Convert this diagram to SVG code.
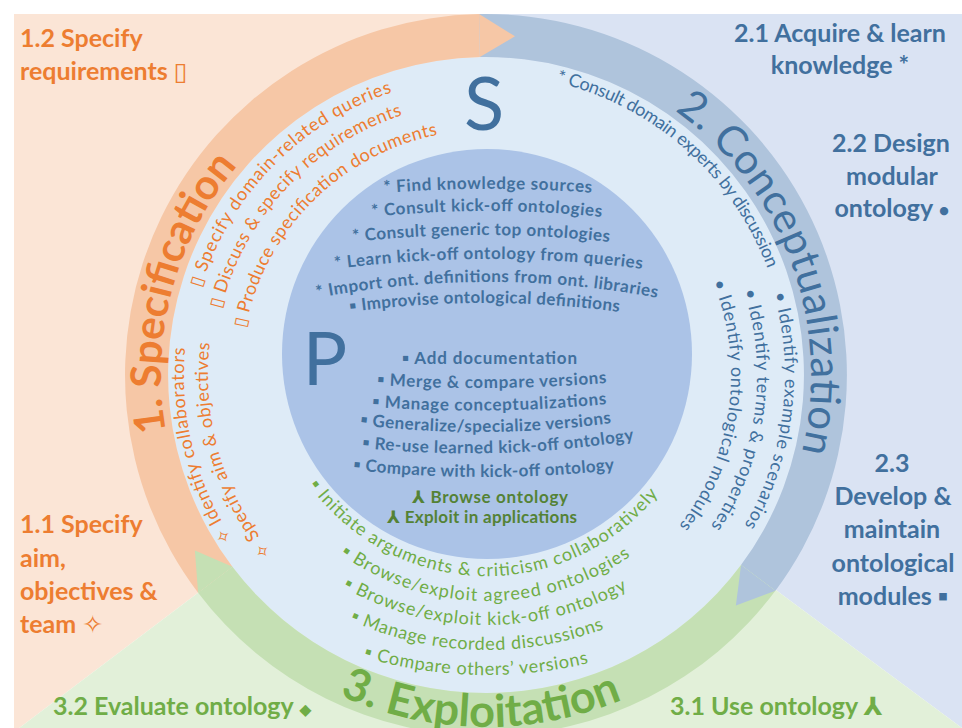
<svg xmlns="http://www.w3.org/2000/svg" width="962" height="728" viewBox="0 0 962 728">
<style>
text{font-family:Lato,'DejaVu Sans',sans-serif}
.h{font-size:25px;font-weight:bold}
.o{fill:#ED7D31}.b{fill:#41709E}.g{fill:#70AD47}.dg{fill:#548235}
.ph{font-size:42px}
.bd{font-weight:bold}
.it{font-size:18px}
.in{font-size:17px;font-weight:bold}
.m{text-anchor:middle}
</style>
<defs>
<path id="pS" d="M165.9 431.4 A325 325 0 0 1 237.0 166.1"/>
<path id="pC" d="M674.7 110.4 A325 325 0 0 1 801.8 452.0"/>
<path id="pE" d="M339.5 695.0 A352 352 0 0 0 622.4 699.5"/>
<path id="o1" d="M201.0 287.9 A298 298 0 0 1 392.4 92.1"/>
<path id="o2" d="M221.1 309.0 A273 273 0 0 1 402.1 115.2"/>
<path id="o3" d="M245.5 328.3 A245 245 0 0 1 437.6 134.8"/>
<path id="o4" d="M232.7 539.5 A302 302 0 0 1 185.2 347.6"/>
<path id="o5" d="M272.4 553.0 A278 278 0 0 1 209.8 343.5"/>
<path id="b1" d="M556.3 82.3 A301 301 0 0 1 767.4 268.1"/>
<path id="b2" d="M773.7 293.6 A299 299 0 0 1 744.4 525.4"/>
<path id="b3" d="M743.6 290.8 A271 271 0 0 1 710.7 526.5"/>
<path id="b4" d="M712.7 282.0 A245 245 0 0 1 679.1 525.8"/>
<path id="g1" d="M308.8 484.8 A219.5 219.5 0 0 0 658.0 494.3"/>
<path id="g2" d="M340.3 553.9 A252 252 0 0 0 630.3 556.3"/>
<path id="g3" d="M342.9 587.1 A292.6 292.6 0 0 0 627.3 589.2"/>
<path id="g4" d="M349.8 620.3 A332 332 0 0 0 604.4 628.6"/>
<path id="g5" d="M363.2 657.1 A436 436 0 0 0 588.8 663.0"/>
<path id="i1" d="M384 193 A1341 1341 0 0 1 594 193"/>
<path id="i2" d="M372 217 A1105 1105 0 0 1 602 217"/>
<path id="i3" d="M353 242 A1183 1183 0 0 1 610 242"/>
<path id="i4" d="M335 269 A1191 1191 0 0 1 643 269"/>
<path id="i5" d="M317 298 A916 916 0 0 1 658 298"/>
<path id="i6" d="M350 312 A1017 1017 0 0 1 620 312"/>
<path id="i8" d="M377 385 A1655 1655 0 0 0 607 383"/>
<path id="i9" d="M372 407 A1383 1383 0 0 0 607 404"/>
<path id="i10" d="M360 425 A996 996 0 0 0 612 423"/>
<path id="i11" d="M362 448 A1040 1040 0 0 0 635 440"/>
<path id="i12" d="M353 470 A1229 1229 0 0 0 615 470"/>
</defs>
<g id="background">
<rect width="962" height="728" fill="#fff"/>
<path d="M486 375 L479.1 14 L14 14 L14 728 L19.2 728 Z" fill="#FBE5D6"/>
<path d="M486 375 L479.1 14 L962 14 L962 728 Z" fill="#DAE3F3"/>
<path d="M486 375 L962 728 L19.2 728 Z" fill="#E2F0D9"/>
<circle cx="486" cy="375" r="318" fill="#DEEBF7"/>
</g>
<g id="connectors">
<path d="M198.1 592.8 A361 361 0 0 1 479.1 14.1 L479.9 57.1 A318 318 0 0 0 232.4 566.8 Z" fill="#F6C7A6"/>
<path d="M479.1 14.1 A361 361 0 0 1 775.4 590.7 L741.0 565.0 A318 318 0 0 0 479.9 57.1 Z" fill="#AFC4DC"/>
<path d="M775.4 590.7 A361 361 0 0 1 198.1 592.8 L232.4 566.8 A318 318 0 0 0 741.0 565.0 Z" fill="#C5E0B4"/>
<path d="M479.1 14.1 L515.0 36.3 L479.9 57.1 Z" fill="#F6C7A6"/>
<path d="M775.4 590.7 L735.9 605.6 L741.0 565.0 Z" fill="#AFC4DC"/>
<path d="M198.1 592.8 L194.9 550.6 L232.4 566.8 Z" fill="#C5E0B4"/>
</g>
<circle id="core" cx="487" cy="354" r="205" fill="#ABC3E7"/>
<g id="specification">
<text class="ph bd o"><textPath href="#pS" textLength="284">1. Specification</textPath></text>
<text class="h o" x="20" y="47">1.2 Specify</text>
<text class="h o" x="20" y="80">requirements ▯</text>
<text class="h o" x="20" y="533">1.1 Specify</text>
<text class="h o" x="20" y="567">aim,</text>
<text class="h o" x="20" y="600">objectives &amp;</text>
<text class="h o" x="20" y="633">team ✧</text>
<text class="it o"><textPath href="#o1" textLength="284">▯ Specify domain-related queries</textPath></text>
<text class="it o"><textPath href="#o2" textLength="277">▯ Discuss &amp; specify requirements</textPath></text>
<text class="it o"><textPath href="#o3" textLength="289">▯ Produce specification documents</textPath></text>
<text class="it o"><textPath href="#o4" textLength="201">✧ Identify collaborators</textPath></text>
<text class="it o"><textPath href="#o5" textLength="225">✧ Specify aim &amp; objectives</textPath></text>
</g>
<g id="conceptualization">
<text class="ph b"><textPath href="#pC" textLength="387">2. Conceptualization</textPath></text>
<text class="h b m" x="840" y="42">2.1 Acquire &amp; learn</text>
<text class="h b m" x="840" y="74">knowledge *</text>
<text class="h b m" x="891" y="152">2.2 Design</text>
<text class="h b m" x="892" y="185">modular</text>
<text class="h b m" x="892" y="217">ontology <tspan font-size="19">•</tspan></text>
<text class="h b m" x="892" y="472">2.3</text>
<text class="h b m" x="893" y="505">Develop &amp;</text>
<text class="h b m" x="892" y="538">maintain</text>
<text class="h b m" x="893" y="572">ontological</text>
<text class="h b m" x="893" y="605">modules ▪</text>
<text class="it b"><textPath href="#b1" textLength="293">* Consult domain experts by discussion</textPath></text>
<text class="it b"><textPath href="#b2" textLength="240">• Identify example scenarios</textPath></text>
<text class="it b"><textPath href="#b3" textLength="246">• Identify terms &amp; properties</textPath></text>
<text class="it b"><textPath href="#b4" textLength="258">• Identify ontological modules</textPath></text>
</g>
<g id="exploitation">
<text class="ph bd g" style="font-size:45px"><textPath href="#pE" textLength="291">3. Exploitation</textPath></text>
<text class="h g" x="53" y="715">3.2 Evaluate ontology <tspan font-size="16">◆</tspan></text>
<text class="h g" x="670" y="715">3.1 Use ontology ⅄</text>
<text class="it g"><textPath href="#g1" textLength="404">▪ Initiate arguments &amp; criticism collaboratively</textPath></text>
<text class="it g"><textPath href="#g2" textLength="309">▪ Browse/exploit agreed ontologies</textPath></text>
<text class="it g"><textPath href="#g3" textLength="297">▪ Browse/exploit kick-off ontology</textPath></text>
<text class="it g"><textPath href="#g4" textLength="261">▪ Manage recorded discussions</textPath></text>
<text class="it g"><textPath href="#g5" textLength="228">▪ Compare others’ versions</textPath></text>
</g>
<g id="core-S">
<text class="b m" x="484" y="130" font-size="74">S</text>
<text class="in b"><textPath href="#i1" textLength="208">* Find knowledge sources</textPath></text>
<text class="in b"><textPath href="#i2" textLength="230">* Consult kick-off ontologies</textPath></text>
<text class="in b"><textPath href="#i3" textLength="257">* Consult generic top ontologies</textPath></text>
<text class="in b"><textPath href="#i4" textLength="308">* Learn kick-off ontology from queries</textPath></text>
<text class="in b"><textPath href="#i5" textLength="342">* Import ont. definitions from ont. libraries</textPath></text>
<text class="in b"><textPath href="#i6" textLength="270">▪ Improvise ontological definitions</textPath></text>
</g>
<g id="core-P">
<text class="b m" x="325" y="385" font-size="74">P</text>
<text class="in b" x="402" y="364" textLength="175">▪ Add documentation</text>
<text class="in b"><textPath href="#i8" textLength="230">▪ Merge &amp; compare versions</textPath></text>
<text class="in b"><textPath href="#i9" textLength="235">▪ Manage conceptualizations</textPath></text>
<text class="in b"><textPath href="#i10" textLength="252">▪ Generalize/specialize versions</textPath></text>
<text class="in b"><textPath href="#i11" textLength="273">▪ Re-use learned kick-off ontology</textPath></text>
<text class="in b"><textPath href="#i12" textLength="262">▪ Compare with kick-off ontology</textPath></text>
<text class="in dg" x="412" y="503" textLength="156">⅄ Browse ontology</text>
<text class="in dg" x="387" y="523" textLength="190">⅄ Exploit in applications</text>
</g>
</svg>
